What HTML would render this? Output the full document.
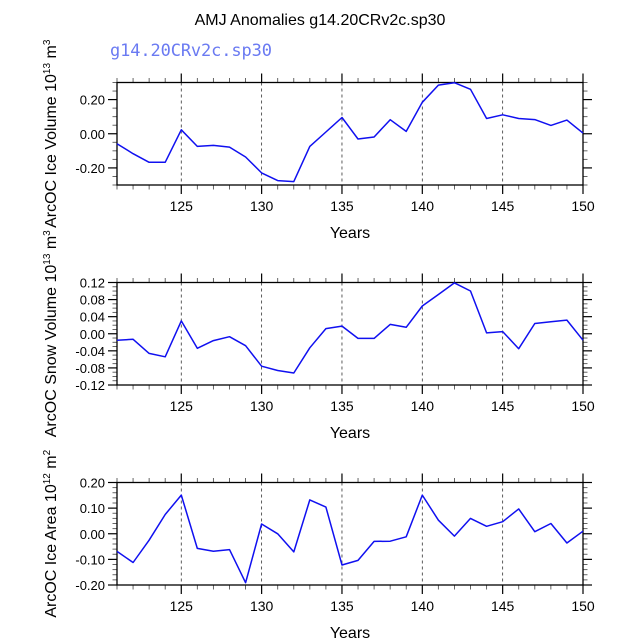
<!DOCTYPE html>
<html><head><meta charset="utf-8"><style>
html,body{margin:0;padding:0;background:#fff}
svg{display:block;font-family:"Liberation Sans",sans-serif}
</style></head><body>
<svg id="chart" width="638" height="638" xmlns="http://www.w3.org/2000/svg">
<rect width="638" height="638" fill="#fff"/>
<text x="320" y="25" font-size="16" text-anchor="middle">AMJ Anomalies g14.20CRv2c.sp30</text>
<text x="110" y="56" font-size="17" fill="#6a7af2" font-family="'DejaVu Sans Mono',monospace" textLength="162">g14.20CRv2c.sp30</text>
<g id="panels"></g>
</svg>
<script>
const years = [121,122,123,124,125,126,127,128,129,130,131,132,133,134,135,136,137,138,139,140,141,142,143,144,145,146,147,148,149,150];
const iceVolume = [-0.058,-0.117,-0.167,-0.167,0.023,-0.074,-0.068,-0.078,-0.136,-0.229,-0.274,-0.280,-0.074,0.010,0.095,-0.031,-0.019,0.082,0.014,0.184,0.285,0.299,0.260,0.089,0.111,0.089,0.083,0.049,0.080,0.004];
const snowVolume = [-0.015,-0.013,-0.046,-0.054,0.030,-0.034,-0.016,-0.007,-0.028,-0.076,-0.086,-0.092,-0.033,0.012,0.018,-0.011,-0.011,0.022,0.015,0.065,0.092,0.119,0.100,0.002,0.005,-0.035,0.024,0.028,0.032,-0.015];
const iceArea = [-0.069,-0.112,-0.025,0.075,0.151,-0.057,-0.068,-0.062,-0.191,0.038,0.0,-0.071,0.132,0.104,-0.122,-0.104,-0.030,-0.029,-0.012,0.151,0.053,-0.009,0.060,0.029,0.047,0.097,0.008,0.040,-0.036,0.010];
const xTicks = [125,130,135,140,145,150];
const iceVolTicks = ["0.20","0.00","-0.20"];
const snowTicks = ["0.12","0.08","0.04","0.00","-0.04","-0.08","-0.12"];
const areaTicks = ["0.20","0.10","0.00","-0.10","-0.20"];

const NS="http://www.w3.org/2000/svg";
const root=document.getElementById('panels');
function mk(tag,attrs,parent){const e=document.createElementNS(NS,tag);for(const k in attrs)e.setAttribute(k,attrs[k]);(parent||root).appendChild(e);return e;}
const L=117,R=583;
function xs(v){return L+(v-121)/(150-121)*(R-L);}

function panel(cfg){
  const g=mk('g',{});
  
  
  const T=cfg.top,B=cfg.top+102.5;
  const ys=v=>B-(v-cfg.min)/(cfg.max-cfg.min)*(B-T);
  xTicks.forEach(t=>{ if(t<150){const l=mk('line',{x1:xs(t),x2:xs(t),y1:T,y2:B,stroke:'#333','stroke-width':0.8,'stroke-dasharray':'3,3'},g);
    
    }});
  for(let yr=121;yr<=150;yr++){
    const maj=xTicks.includes(yr)||yr==150;
    const len=maj?9:4.5;
    mk('line',{x1:xs(yr),x2:xs(yr),y1:B,y2:B+len,stroke:maj?'#000':'#555','stroke-width':maj?1.2:0.9},g);
    mk('line',{x1:xs(yr),x2:xs(yr),y1:T,y2:T-len,stroke:maj?'#000':'#555','stroke-width':maj?1.2:0.9},g);
  }
  xTicks.forEach(t=>{const tx=mk('text',{x:xs(t),y:B+26,'font-size':14,'text-anchor':'middle'},g);tx.textContent=t;
    
    });
  const nMin=Math.round((cfg.max-cfg.min)/cfg.minor);
  for(let i=0;i<=nMin;i++){
    const v=cfg.min+i*cfg.minor;const y=ys(v);
    const maj=Math.abs(((v-cfg.majStart)/cfg.major)-Math.round((v-cfg.majStart)/cfg.major))<1e-6;
    const len=maj?9:4.5;
    mk('line',{x1:L,x2:L-len,y1:y,y2:y,stroke:maj?'#000':'#555','stroke-width':maj?1.2:0.9},g);
    mk('line',{x1:R,x2:R+len,y1:y,y2:y,stroke:maj?'#000':'#555','stroke-width':maj?1.2:0.9},g);
  }
  cfg.ticks.forEach(s=>{const v=parseFloat(s);const tx=mk('text',{x:L-12,y:ys(v)+5,'font-size':13,'text-anchor':'end'},g);tx.textContent=s;
    
    });
  mk('rect',{x:L,y:T,width:R-L,height:B-T,fill:'none',stroke:'#000','stroke-width':1.3},g);
  const pts=years.map((yr,i)=>xs(yr).toFixed(1)+','+ys(cfg.data[i]).toFixed(1)).join(' ');
  const pl=mk('polyline',{points:pts,fill:'none',stroke:'#1010f0','stroke-width':1.5,'stroke-linejoin':'round'},g);
  
  
  const xt=mk('text',{x:350,y:B+53,'font-size':16,'text-anchor':'middle'},g);xt.textContent='Years';
  
  
  const yt=mk('text',{x:0,y:0,'font-size':16,'text-anchor':'middle',transform:`translate(56,${(T+B)/2}) rotate(-90)`},g);
  yt.innerHTML=cfg.title;
  
  
}
panel({name:'ice-volume-panel',top:82.5,min:-0.3,max:0.3,minor:0.05,major:0.2,majStart:-0.2,ticks:iceVolTicks,data:iceVolume,
  title:'ArcOC Ice Volume 10<tspan dy="-6" font-size="10">13</tspan><tspan dy="6"> m</tspan><tspan dy="-6" font-size="10">3</tspan>'});
panel({name:'snow-volume-panel',top:282.5,min:-0.12,max:0.12,minor:0.01,major:0.04,majStart:-0.12,ticks:snowTicks,data:snowVolume,
  title:'ArcOC Snow Volume 10<tspan dy="-6" font-size="10">13</tspan><tspan dy="6"> m</tspan><tspan dy="-6" font-size="10">3</tspan>'});
panel({name:'ice-area-panel',top:482.5,min:-0.2,max:0.2,minor:0.02,major:0.1,majStart:-0.2,ticks:areaTicks,data:iceArea,
  title:'ArcOC Ice Area 10<tspan dy="-6" font-size="10">12</tspan><tspan dy="6"> m</tspan><tspan dy="-6" font-size="10">2</tspan>'});
</script>
</body></html>
